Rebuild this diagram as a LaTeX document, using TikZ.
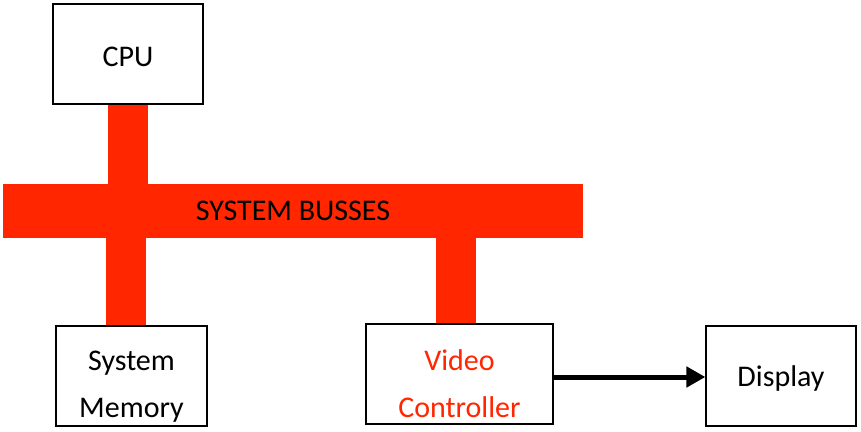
\documentclass[tikz,border=0pt]{standalone}
\usepackage{fontspec}
\setmainfont{Carlito}
\usetikzlibrary{positioning,arrows.meta,backgrounds}
\definecolor{busred}{RGB}{255,38,0}
\newcommand{\toppad}{\rule{0pt}{40pt}}

\begin{document}
\begin{tikzpicture}[
    x=1pt, y=1pt,
    unit/.style={draw=black, line width=1.2pt, fill=white, align=center, minimum height=100pt,
        font=\fontsize{30}{47}\selectfont},
    bus/.style={fill=busred, inner sep=0pt, minimum width=580pt, minimum height=54pt, font=\fontsize{30}{36}\selectfont},
    bar/.style={busred, line width=40pt},
    arrow/.style={-{Triangle[length=19pt, width=20pt]}, line width=5pt},
]
    \useasboundingbox (0,0) rectangle (861,-431);

    % Units
    \node[unit, minimum width=150pt] (cpu) at (128,-54) {\rule{0pt}{26pt}CPU};
    \node[bus] (bus) at (293,-211) {SYSTEM BUSSES};
    \node[unit, minimum width=151pt] (mem) at (131.5,-376) {\toppad System\\Memory};
    \node[unit, minimum width=187pt, text=busred] (vc) at (459.5,-374) {\toppad Video\\Controller};
    \node[unit, minimum width=150pt] (disp) at (781,-376) {\rule{0pt}{26pt}Display};

    % Bus connections
    \begin{scope}[on background layer]
        \draw[bar] (cpu.south) -- (cpu.south |- bus.north);
        \draw[bar] ([xshift=-5.5pt]mem.north |- bus.south) -- ([xshift=-5.5pt]mem.north);
        \draw[bar] ([xshift=-3.5pt]vc.north |- bus.south) -- ([xshift=-3.5pt]vc.north);
    \end{scope}

    % Output
    \draw[arrow] ([yshift=-3pt]vc.east) -- ([yshift=-3pt]vc.east -| disp.west);
\end{tikzpicture}
\end{document}
